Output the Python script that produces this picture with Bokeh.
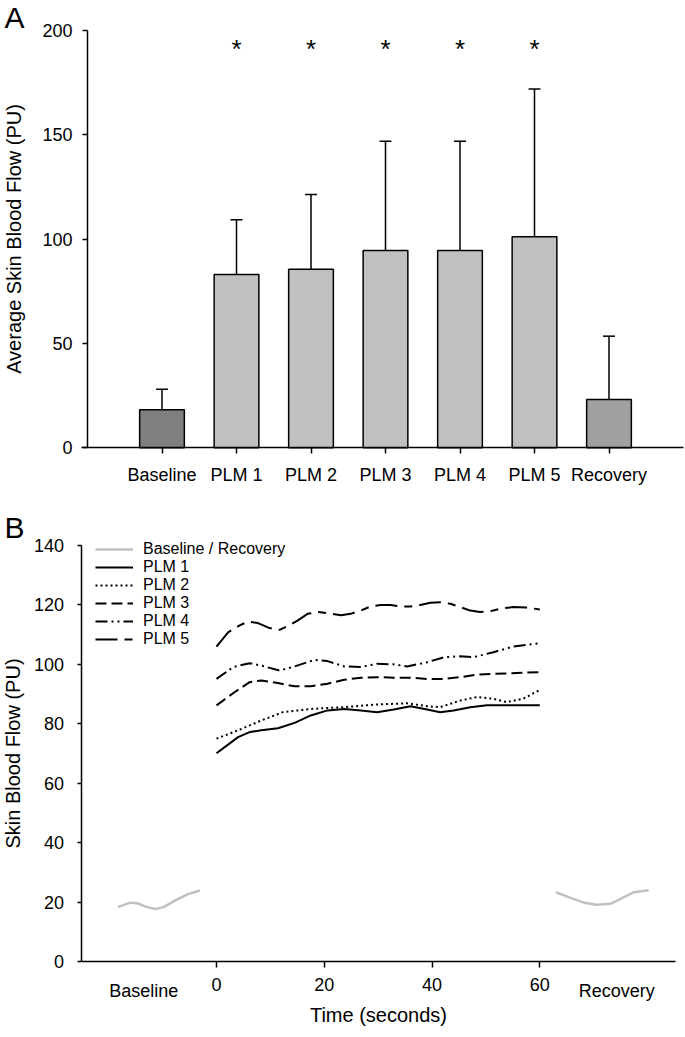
from bokeh.plotting import figure
from bokeh.models import FixedTicker, Label, Legend, LegendItem, Range1d
from bokeh.layouts import column
from bokeh.embed import file_html
from bokeh.resources import INLINE
from bokeh.core.properties import value

FONT = "Liberation Sans"

# ---------------- Panel A data ----------------
categories = ["Baseline", "PLM 1", "PLM 2", "PLM 3", "PLM 4", "PLM 5", "Recovery"]
means = [18.2, 83.1, 85.6, 94.6, 94.6, 101.1, 23.2]
sd = [9.9, 26.2, 35.8, 52.3, 52.3, 70.9, 30.3]
bar_colors = ["#7f7f7f", "#c0c0c0", "#c0c0c0", "#c0c0c0", "#c0c0c0", "#c0c0c0", "#a0a0a0"]
significant = ["PLM 1", "PLM 2", "PLM 3", "PLM 4", "PLM 5"]
star_level = 191
a_ticks = [0, 50, 100, 150, 200]

# ---------------- Panel B data ----------------
baseline_t = [-18.3, -16.0, -14.7, -12.9, -11.3, -9.8, -7.9, -5.4, -3.1]
baseline_y = [18.3, 19.8, 19.6, 18.3, 17.7, 18.3, 20.3, 22.6, 23.9]
recovery_t = [63.0, 65.7, 68.2, 70.6, 73.1, 75.0, 77.4, 80.2]
recovery_y = [23.3, 21.4, 19.8, 19.1, 19.4, 21.1, 23.3, 24.0]

plm1_t = [0, 2.15, 4.0, 6.15, 8.3, 11.4, 14.5, 17.5, 20.6, 23.7, 26.8, 29.8, 32.9, 36.0, 39.1, 41.5, 44.0, 47.1, 50.2, 54.5, 60]
plm1_y = [70.1, 73.0, 75.5, 77.2, 77.8, 78.5, 80.3, 82.8, 84.5, 85.0, 84.5, 83.9, 84.8, 85.9, 84.8, 83.9, 84.5, 85.6, 86.2, 86.2, 86.2]

plm2_t = [0, 4.0, 8.3, 12.3, 17.5, 23.7, 29.8, 35.4, 39.1, 41.5, 45.2, 48.3, 51.4, 53.8, 56.9, 60]
plm2_y = [75.0, 77.8, 81.1, 83.9, 85.0, 85.6, 86.5, 86.9, 85.9, 85.6, 87.8, 89.0, 88.4, 87.3, 88.4, 91.4]

plm3_t = [0, 3.4, 6.15, 8.3, 11.4, 14.5, 17.5, 20.6, 23.7, 26.8, 29.8, 32.9, 36.0, 39.1, 42.2, 45.2, 48.3, 51.4, 54.5, 60]
plm3_y = [86.2, 90.7, 94.0, 94.6, 93.7, 92.6, 92.6, 93.5, 94.8, 95.5, 95.7, 95.5, 95.5, 95.1, 95.1, 95.7, 96.5, 96.8, 97.0, 97.4]

plm4_t = [0, 3.1, 6.15, 8.3, 11.7, 14.5, 18.2, 20.6, 23.7, 26.8, 29.8, 32.9, 35.4, 39.1, 42.2, 45.2, 47.7, 51.4, 55.1, 60]
plm4_y = [95.1, 99.1, 100.4, 99.6, 97.9, 99.3, 101.5, 101.1, 99.3, 99.1, 100.2, 100.0, 99.3, 100.7, 102.4, 102.7, 102.4, 104.1, 106.0, 107.1]

plm5_t = [0, 2.15, 4.3, 5.85, 7.7, 9.85, 11.7, 13.5, 15.1, 16.9, 18.8, 20.6, 23.1, 24.9, 26.8, 28.6, 30.5, 32.3, 34.2, 36.0, 37.8, 39.7, 41.5, 43.4, 45.2, 47.1, 48.9, 50.8, 52.6, 55.1, 57.5, 60]
plm5_y = [106.0, 110.8, 113.1, 114.4, 113.9, 112.2, 111.6, 113.1, 114.8, 117.0, 117.6, 117.2, 116.5, 117.0, 118.1, 119.5, 120.0, 120.0, 119.5, 119.5, 120.0, 120.7, 120.9, 120.4, 119.3, 118.1, 117.6, 117.9, 118.7, 119.3, 119.1, 118.5]

time_ticks = [0, 20, 40, 60]
b_ticks = [0, 20, 40, 60, 80, 100, 120, 140]
phase_labels = ["Baseline", "Recovery"]
phase_label_t = [-13.5, 74.3]

# ---------------- layout geometry (pixels) ----------------
W = 685
HA, HB = 500, 537
A_x0_px, A_x8_px = 87.0, 683.0
A_y0_px, A_y200_px = 447.3, 30.0
B_t0_px, B_t60_px = 216.0, 539.3
B_y0_px, B_y140_px = 961.0 - HA, 545.0 - HA
B_axis_left_px, B_axis_right_px = 80.5, 675.0


def style_axes(p):
    for ax in [p.xaxis[0], p.yaxis[0]]:
        ax.axis_line_color = "black"
        ax.axis_line_width = 1.5
        ax.major_tick_line_color = "black"
        ax.major_tick_line_width = 1.5
        ax.major_tick_in = 0
        ax.minor_tick_line_color = None
        ax.major_label_text_font = FONT
        ax.major_label_text_font_size = "18px"
        ax.major_label_text_color = "black"
        ax.axis_label_text_font = FONT
        ax.axis_label_text_font_size = "20px"
        ax.axis_label_text_font_style = "normal"
        ax.axis_label_text_color = "black"
    p.xgrid.visible = False
    p.ygrid.visible = False
    p.outline_line_color = None
    p.background_fill_color = "white"
    p.border_fill_color = "white"


# ---------------- Panel A ----------------
ax_scale = (A_x8_px - A_x0_px) / 8.0
ay_scale = (A_y0_px - A_y200_px) / 200.0
xA = Range1d(-A_x0_px / ax_scale, 8.0 + (W - A_x8_px) / ax_scale)
yA = Range1d(-(HA - A_y0_px) / ay_scale, 200.0 + A_y200_px / ay_scale)

pA = figure(width=W, height=HA, output_backend="svg", toolbar_location=None,
            x_range=xA, y_range=yA,
            min_border_left=0, min_border_right=0, min_border_top=0, min_border_bottom=0)
style_axes(pA)

xs = list(range(1, len(categories) + 1))
tops = [m + s for m, s in zip(means, sd)]
pA.segment(x0=xs, y0=means, x1=xs, y1=tops, line_color="black", line_width=1.5)
pA.segment(x0=[x - 0.08 for x in xs], y0=tops, x1=[x + 0.08 for x in xs], y1=tops,
           line_color="black", line_width=1.5)
pA.vbar(x=xs, top=means, bottom=0, width=0.6, fill_color=bar_colors,
        line_color="black", line_width=1.5)

star_x = [categories.index(c) + 1 for c in significant]
pA.text(x=star_x, y=[star_level] * len(star_x), text=["*"] * len(star_x),
        text_font=value(FONT), text_font_size="26px", text_align="center",
        text_baseline="alphabetic", text_color="black")

xaxA = pA.xaxis[0]
xaxA.fixed_location = 0
xaxA.bounds = (-6 / ax_scale, 8.0)
xaxA.ticker = FixedTicker(ticks=xs)
xaxA.major_label_overrides = {x: c for x, c in zip(xs, categories)}
xaxA.major_tick_out = 6
xaxA.major_label_standoff = 11

yaxA = pA.yaxis[0]
yaxA.fixed_location = 0
yaxA.bounds = (0, 200)
yaxA.ticker = FixedTicker(ticks=a_ticks)
yaxA.major_tick_out = 5
yaxA.major_label_standoff = 10
yaxA.axis_label = "Average Skin Blood Flow (PU)"
yaxA.axis_label_standoff = 14

pA.add_layout(Label(x=4, y=HA - 33, x_units="screen", y_units="screen", text="A",
                    text_font=FONT, text_font_size="30px", text_color="black"))

# ---------------- Panel B ----------------
bx_scale = (B_t60_px - B_t0_px) / 60.0
by_scale = (B_y0_px - B_y140_px) / 140.0
xB = Range1d(-B_t0_px / bx_scale, (W - B_t0_px) / bx_scale)
yB = Range1d(-(HB - B_y0_px) / by_scale, 140.0 + B_y140_px / by_scale)

pB = figure(width=W, height=HB, output_backend="svg", toolbar_location=None,
            x_range=xB, y_range=yB,
            min_border_left=0, min_border_right=0, min_border_top=0, min_border_bottom=0)
style_axes(pB)

r_base = pB.line(baseline_t, baseline_y, line_color="#c0c0c0", line_width=2.5)
pB.line(recovery_t, recovery_y, line_color="#c0c0c0", line_width=2.5)
r1 = pB.line(plm1_t, plm1_y, line_color="black", line_width=2)
r2 = pB.line(plm2_t, plm2_y, line_color="black", line_width=2, line_dash="2 3")
r3 = pB.line(plm3_t, plm3_y, line_color="black", line_width=2, line_dash="11 5")
r4 = pB.line(plm4_t, plm4_y, line_color="black", line_width=2, line_dash="12 4 2 4 2 4")
r5 = pB.line(plm5_t, plm5_y, line_color="black", line_width=2, line_dash="22 7 8 7")

b_left = (B_axis_left_px - B_t0_px) / bx_scale
b_right = (B_axis_right_px - B_t0_px) / bx_scale

legend = Legend(items=[
    LegendItem(label="Baseline / Recovery", renderers=[r_base]),
    LegendItem(label="PLM 1", renderers=[r1]),
    LegendItem(label="PLM 2", renderers=[r2]),
    LegendItem(label="PLM 3", renderers=[r3]),
    LegendItem(label="PLM 4", renderers=[r4]),
    LegendItem(label="PLM 5", renderers=[r5]),
], location=(95, HB - (647.7 - HA)), padding=0, margin=0, spacing=0, glyph_width=38,
    glyph_height=18, label_height=18, label_standoff=10, border_line_color=None,
    background_fill_alpha=0, label_text_font=FONT, label_text_font_size="16px",
    label_text_color="black")
pB.add_layout(legend)

xaxB = pB.xaxis[0]
xaxB.fixed_location = 0
xaxB.bounds = (b_left, b_right)
xaxB.ticker = FixedTicker(ticks=time_ticks)
xaxB.major_tick_out = 6
xaxB.major_label_standoff = 10
xaxB.axis_label = "Time (seconds)"
xaxB.axis_label_standoff = 10

yaxB = pB.yaxis[0]
yaxB.fixed_location = b_left
yaxB.bounds = (0, 140)
yaxB.ticker = FixedTicker(ticks=b_ticks)
yaxB.major_tick_out = 4
yaxB.major_label_standoff = 13
yaxB.axis_label = "Skin Blood Flow (PU)"
yaxB.axis_label_standoff = 7

for t, lab in zip(phase_label_t, phase_labels):
    pB.add_layout(Label(x=t, y=HB - (990 - HA), x_units="data", y_units="screen", text=lab,
                        text_font=FONT, text_font_size="18px", text_color="black",
                        text_align="center", text_baseline="middle"))

pB.add_layout(Label(x=4, y=HB - (543 - HA), x_units="screen", y_units="screen", text="B",
                    text_font=FONT, text_font_size="30px", text_color="black"))

layout = column(pA, pB, spacing=0)
open("out.html", "w").write(file_html(layout, INLINE))
